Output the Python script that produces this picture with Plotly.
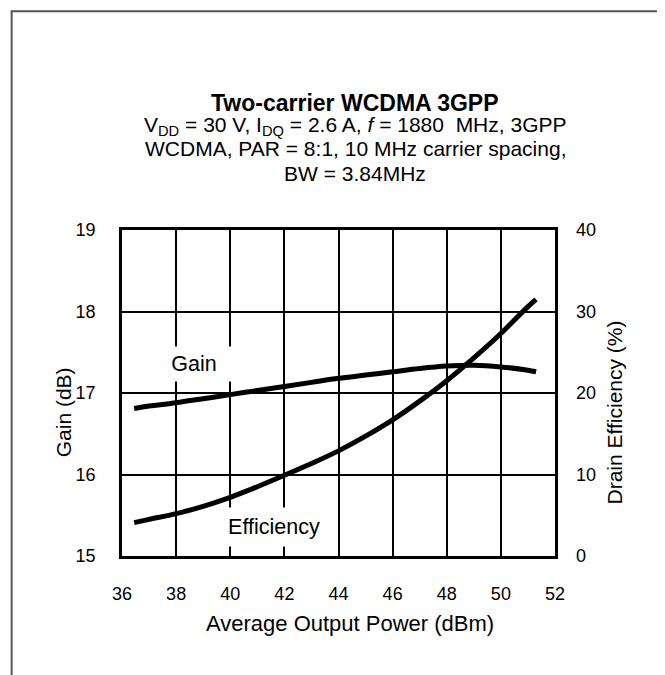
import plotly.graph_objects as go

# ---- data ----
power_dbm = [36.45, 37, 38, 39, 40, 41, 42, 43, 44, 45, 46, 47, 48, 49, 50, 51, 51.3]
gain_db = [16.81, 16.84, 16.88, 16.93, 16.98, 17.03, 17.08, 17.13, 17.18, 17.22,
           17.26, 17.30, 17.33, 17.34, 17.32, 17.28, 17.26]
efficiency_pct = [4.1, 4.5, 5.2, 6.1, 7.2, 8.5, 9.9, 11.35, 12.9, 14.7,
                  16.7, 19.0, 21.5, 24.3, 27.3, 30.6, 31.5]

x_ticks = [36, 38, 40, 42, 44, 46, 48, 50, 52]
gain_ticks = [15, 16, 17, 18, 19]
eff_ticks = [0, 10, 20, 30, 40]

FONT = "Liberation Sans, Arial, sans-serif"

fig = go.Figure()
fig.add_trace(go.Scatter(x=power_dbm, y=gain_db, mode="lines",
                         line=dict(color="black", width=5, shape="spline"),
                         showlegend=False, hoverinfo="skip"))
fig.add_trace(go.Scatter(x=power_dbm, y=efficiency_pct, mode="lines", yaxis="y2",
                         line=dict(color="black", width=5, shape="spline"),
                         showlegend=False, hoverinfo="skip"))

ann = []
# title block
ann.append(dict(text="<b>Two-carrier WCDMA 3GPP</b>", x=0.5386, y=1.3896,
                font=dict(size=23)))
ann.append(dict(text="V<sub>DD</sub> = 30 V, I<sub>DQ</sub> = 2.6 A, <i>f</i> = 1880  MHz, 3GPP",
                x=0.5386, y=1.319, font=dict(size=21)))
ann.append(dict(text="WCDMA, PAR = 8:1, 10 MHz carrier spacing,", x=0.5386, y=1.2485,
                font=dict(size=21)))
ann.append(dict(text="BW = 3.84MHz", x=0.5386, y=1.172, font=dict(size=21)))
# axis titles
ann.append(dict(text="Average Output Power (dBm)", x=0.527, y=-0.2067, font=dict(size=22)))
ann.append(dict(text="Gain (dB)", x=-0.135, y=0.4395, textangle=-90, font=dict(size=21)))
ann.append(dict(text="Drain Efficiency (%)", x=1.138, y=0.4395, textangle=-90,
                font=dict(size=21)))
for a in ann:
    a.update(xref="paper", yref="paper", xanchor="center", yanchor="middle",
             showarrow=False)
    a["font"].update(family=FONT, color="black")

# in-plot labels with white boxes
ann.append(dict(text="Gain", x=38.66, y=17.35, xref="x", yref="y", showarrow=False,
                xanchor="center", yanchor="middle", bgcolor="white", width=80, height=34,
                borderpad=0, font=dict(family=FONT, size=21.5, color="black")))
ann.append(dict(text="Efficiency", x=41.63, y=15.35, xref="x", yref="y", showarrow=False,
                xanchor="center", yanchor="middle", bgcolor="white", width=112, height=38,
                borderpad=0, font=dict(family=FONT, size=21.5, color="black")))

axis_common = dict(showline=True, linecolor="black", linewidth=2.5, mirror=True,
                   showgrid=True, gridcolor="black", gridwidth=2, zeroline=False,
                   ticks="", tickfont=dict(family=FONT, size=18, color="black"),
                   ticklabelstandoff=20)

# the page body has an 8px margin, so the figure is 8px smaller and shifted
fig.update_layout(
    width=657, height=667,
    margin=dict(l=113.5, r=110, t=222, b=118.5),
    paper_bgcolor="white", plot_bgcolor="white",
    xaxis=dict(range=[36, 52], tickvals=x_ticks, **axis_common),
    yaxis=dict(range=[15, 19], tickvals=gain_ticks, **axis_common),
    yaxis2=dict(range=[0, 40], tickvals=eff_ticks, overlaying="y", side="right",
                showline=False, showgrid=False, zeroline=False, ticks="",
                tickfont=dict(family=FONT, size=18, color="black"),
                ticklabelstandoff=20),
    annotations=ann,
    shapes=[dict(type="rect", xref="paper", yref="paper",
                 x0=-0.2549, x1=1.2475, y0=-0.6, y1=1.671,
                 line=dict(color="#555555", width=2), fillcolor="rgba(0,0,0,0)",
                 layer="below")],
)

fig.write_html("out.html")
